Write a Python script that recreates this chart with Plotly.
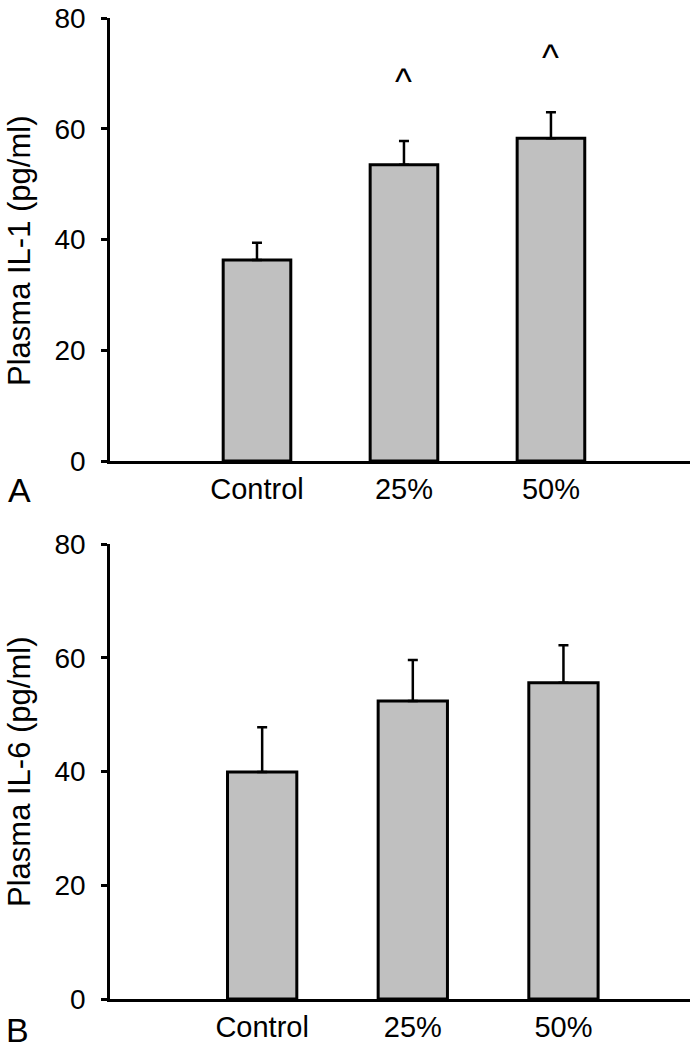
import plotly.graph_objects as go

categories = ["Control", "25%", "50%"]
il1_mean = [36.3, 53.5, 58.3]
il1_sem = [3.1, 4.3, 4.7]
il6_mean = [39.9, 52.4, 55.6]
il6_sem = [7.9, 7.2, 6.6]
caret_cats = ["25%", "50%"]
caret_y = [68.5, 72.8]
y_ticks = [0, 20, 40, 60, 80]

FONT = "Liberation Sans, Arial, Helvetica, sans-serif"
W, H = 696, 1050

fig = go.Figure()

def add_bars(means, sems, xa, ya):
    fig.add_trace(go.Bar(
        x=categories, y=means, width=0.46,
        marker=dict(color="#c0c0c0", line=dict(color="black", width=3)),
        error_y=dict(type="data", array=sems, arrayminus=[0] * len(sems),
                     symmetric=False, color="black", thickness=2.5, width=5),
        xaxis=xa, yaxis=ya, showlegend=False, hoverinfo="skip",
    ))

add_bars(il1_mean, il1_sem, "x", "y")
add_bars(il6_mean, il6_sem, "x2", "y2")

xdom = [110 / W, 690 / W]
ydomA = [1 - 461 / H, 1 - 18 / H]
ydomB = [1 - 999 / H, 1 - 544 / H]

xcommon = dict(showline=True, linecolor="black", linewidth=2.5, ticks="",
               showgrid=False, zeroline=False, type="category", automargin=False,
               tickfont=dict(family=FONT, size=29, color="black"),
               domain=xdom, ticklabelstandoff=0)
ycommon = dict(showline=True, linecolor="black", linewidth=2.5, ticks="outside",
               ticklen=6, tickwidth=2.5, tickcolor="black", showgrid=False,
               zeroline=False, range=[0, 80], tickvals=y_ticks, automargin=False,
               tickfont=dict(family=FONT, size=28, color="black"),
               ticklabelstandoff=10)

fig.update_layout(
    width=W, height=H, margin=dict(l=0, r=0, t=0, b=0, autoexpand=False),
    paper_bgcolor="white", plot_bgcolor="white",
    xaxis=dict(**xcommon, range=[-1.0, 2.946], anchor="y"),
    yaxis=dict(**ycommon, domain=ydomA, anchor="x"),
    xaxis2=dict(**xcommon, range=[-1.01, 2.84], anchor="y2"),
    yaxis2=dict(**ycommon, domain=ydomB, anchor="x2"),
    bargap=0.5,
)

annotations = []
for c, yv in zip(caret_cats, caret_y):
    annotations.append(dict(x=c, y=yv, xref="x", yref="y", text="^",
                            showarrow=False, xanchor="center", yanchor="middle",
                            font=dict(family=FONT, size=36, color="black")))
annotations += [
    dict(x=19 / W, y=1 - 251 / H, xref="paper", yref="paper",
         text="Plasma IL-1 (pg/ml)", textangle=-90, showarrow=False,
         xanchor="center", yanchor="middle",
         font=dict(family=FONT, size=31, color="black")),
    dict(x=19 / W, y=1 - 772 / H, xref="paper", yref="paper",
         text="Plasma IL-6 (pg/ml)", textangle=-90, showarrow=False,
         xanchor="center", yanchor="middle",
         font=dict(family=FONT, size=31, color="black")),
    dict(x=19 / W, y=1 - 490 / H, xref="paper", yref="paper", text="A",
         showarrow=False, xanchor="center", yanchor="middle",
         font=dict(family=FONT, size=34, color="black")),
    dict(x=17 / W, y=1 - 1030 / H, xref="paper", yref="paper", text="B",
         showarrow=False, xanchor="center", yanchor="middle",
         font=dict(family=FONT, size=34, color="black")),
]
fig.update_layout(annotations=annotations)

fig.write_html("out.html", config={"displayModeBar": False},
               post_script="document.body.style.margin='0';")
